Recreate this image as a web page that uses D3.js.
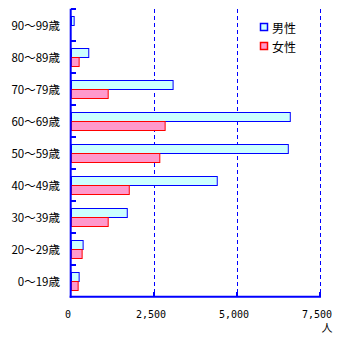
<!DOCTYPE html>
<html><head><meta charset="utf-8">
<script src="https://cdn.jsdelivr.net/npm/d3@7/dist/d3.min.js"></script>
<style>body{margin:0;background:#fff}svg{display:block}</style>
</head><body>
<script>
const categories = ["90～99歳","80～89歳","70～79歳","60～69歳","50～59歳","40～49歳","30～39歳","20～29歳","0～19歳"];
const series = ["男性","女性"];
const maleValues = [80, 520, 3060, 6590, 6530, 4390, 1680, 350, 230];
const femaleValues = [0, 230, 1105, 2820, 2660, 1740, 1105, 320, 200];
const xTicks = [0, 2500, 5000, 7500];
const xTickLabels = ["0","2,500","5,000","7,500"];
const unitLabel = "人";

const W = 346, H = 337;
const svg = d3.select("body").append("svg").attr("width", W).attr("height", H);
const x = d3.scaleLinear().domain([0, 7500]).range([71, 320]);
const y = d3.scaleBand().domain(categories).range([8.7, 296.7]);
const ys = d3.scaleBand().domain(series).range([7.5, 25.5]);
const fills = {"男性":"#ccffff","女性":"#ff99cc"};
const strokes = {"男性":"#0000ff","女性":"#ff0000"};
const font = "'Noto Sans CJK JP', sans-serif";

// grid
svg.append("g").selectAll("line").data(xTicks.slice(1)).join("line")
  .attr("x1", d => Math.round(x(d)) + 0.5).attr("x2", d => Math.round(x(d)) + 0.5)
  .attr("y1", 9).attr("y2", 296)
  .attr("stroke", "#0000ff").attr("stroke-width", 1).attr("stroke-dasharray", "4,3");

// bars
const data = [];
categories.forEach((c, i) => {
  data.push({c, s: "男性", v: maleValues[i]});
  data.push({c, s: "女性", v: femaleValues[i]});
});
svg.append("g").selectAll("rect").data(data.filter(d => d.v > 0)).join("rect")
  .attr("x", x(0) + 0.5)
  .attr("y", d => Math.round(y(d.c) + ys(d.s)) + 0.5)
  .attr("width", d => x(d.v) - x(0))
  .attr("height", ys.bandwidth())
  .attr("fill", d => fills[d.s]).attr("stroke", d => strokes[d.s]).attr("stroke-width", 1);

// axes
const ax = svg.append("g").attr("stroke", "#0000ff").attr("stroke-width", 2);
ax.append("line").attr("x1", x(0)-0.3).attr("x2", x(0)-0.3).attr("y1", 8.7).attr("y2", 297.7);
ax.append("line").attr("x1", x(0)-1.3).attr("x2", x(7500)+1).attr("y1", 296.7).attr("y2", 296.7);
const bounds = categories.map(c => y(c));
ax.append("g").selectAll("line").data(bounds).join("line")
  .attr("x1", x(0)).attr("x2", x(0) + 5)
  .attr("y1", d => d + 0.3).attr("y2", d => d + 0.3);
ax.append("g").selectAll("line").data(xTicks.slice(1)).join("line")
  .attr("x1", d => x(d)).attr("x2", d => x(d))
  .attr("y1", 292).attr("y2", 297);

// category labels
svg.append("g").selectAll("text").data(categories).join("text")
  .attr("x", 60).attr("y", d => y(d) + y.bandwidth()/2)
  .attr("text-anchor", "end").attr("dominant-baseline", "central")
  .attr("font-family", font).attr("font-size", 11.5).attr("fill", "#000")
  .text(d => d);

// x tick labels
svg.append("g").selectAll("text").data(xTicks).join("text")
  .attr("x", d => x(d) - 3).attr("y", 314)
  .attr("text-anchor", "middle").attr("dominant-baseline", "central")
  .attr("font-family", "'DejaVu Sans Mono', monospace").attr("font-size", 10).attr("fill", "#000")
  .text((d, i) => xTickLabels[i]);
svg.append("text").attr("x", 327).attr("y", 327)
  .attr("text-anchor", "middle").attr("dominant-baseline", "central")
  .attr("font-family", font).attr("font-size", 11).text(unitLabel);

// legend
const lg = svg.append("g").selectAll("g").data(series).join("g")
  .attr("transform", (d, i) => `translate(260,${23 + i*19})`);
lg.append("rect").attr("x", 0.5).attr("y", 0.5).attr("width", 7).attr("height", 7)
  .attr("fill", d => fills[d]).attr("stroke", d => strokes[d]).attr("stroke-width", 1.5);
lg.append("text").attr("x", 12).attr("y", 4.5).attr("dominant-baseline", "central")
  .attr("font-family", font).attr("font-size", 12).text(d => d);
</script>
</body></html>
